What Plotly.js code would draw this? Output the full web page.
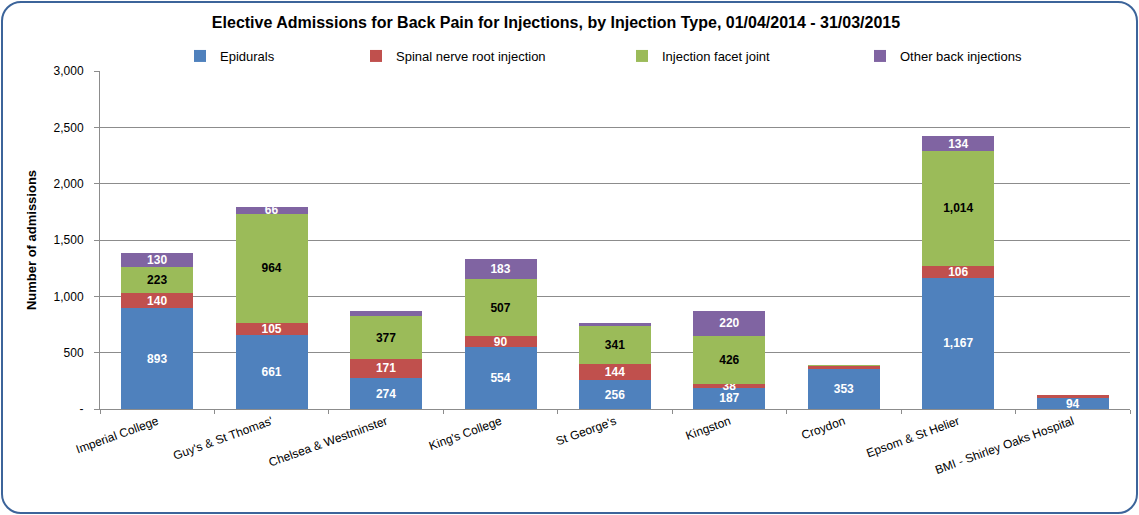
<!DOCTYPE html>
<html>
<head>
<meta charset="utf-8">
<script src="https://cdn.plot.ly/plotly-3.0.1.min.js"></script>
<style>
  html, body { margin:0; padding:0; background:#fff; }
  #wrap { position:relative; width:1139px; height:515px; }
  #chart { width:1139px; height:515px; }
  #frame { position:absolute; left:1px; top:1px; width:1133px; height:509px;
           border:2px solid #3c649a; border-radius:20px; pointer-events:none; }
</style>
</head>
<body>
<div id="wrap"><div id="chart"></div><div id="frame"></div></div>
<script>
const categories = ["Imperial College", "Guy's & St Thomas'", "Chelsea & Westminster", "King's College",
  "St George's", "Kingston", "Croydon", "Epsom & St Helier", "BMI - Shirley Oaks Hospital"];
const epidurals   = [893, 661, 274, 554, 256, 187, 353, 1167, 94];
const spinalRoot  = [140, 105, 171, 90, 144, 38, 28, 106, 28];
const facetJoint  = [223, 964, 377, 507, 341, 426, 12, 1014, 0];
const otherBack   = [130, 66, 45, 183, 25, 220, 0, 134, 0];
// which segments carry a data label in the original
const epiduralsShown  = [1,1,1,1,1,1,1,1,1];
const spinalShown     = [1,1,1,1,1,1,0,1,0];
const facetShown      = [1,1,1,1,1,1,0,1,0];
const otherShown      = [1,1,0,1,0,1,0,1,0];
const yTickVals   = [0, 500, 1000, 1500, 2000, 2500, 3000];
const yTickText   = ["-", "500", "1,000", "1,500", "2,000", "2,500", "3,000"];

const FONT = "Liberation Sans, Arial, sans-serif";
const fmt = v => v.toLocaleString('en-GB');
const labels = (vals, shown) => vals.map((v, i) => shown[i] ? fmt(v) : "");

function px2paper(px) { return (px - 100) / 1030; }

function mk(name, vals, shown, color, textColor, legendId) {
  return {
    type: 'bar', name: name, x: categories, y: vals,
    marker: { color: color, line: { width: 0 } },
    text: labels(vals, shown), textposition: 'inside', insidetextanchor: 'middle',
    textangle: 0, constraintext: 'none', cliponaxis: false,
    textfont: { family: FONT, size: 12, color: textColor, weight: 'bold' },
    hoverinfo: 'x+y+name', legend: legendId
  };
}

const data = [
  mk('Epidurals', epidurals, epiduralsShown, '#4f81bd', '#ffffff', 'legend'),
  mk('Spinal nerve root injection', spinalRoot, spinalShown, '#c0504d', '#ffffff', 'legend2'),
  mk('Injection facet joint', facetJoint, facetShown, '#9bbb59', '#000000', 'legend3'),
  mk('Other back injections', otherBack, otherShown, '#8064a2', '#ffffff', 'legend4')
];

const legBase = { orientation: 'h', yanchor: 'middle', y: (409 - 56) / 338, xanchor: 'left',
  font: { family: FONT, size: 13, color: '#000' }, bgcolor: 'rgba(0,0,0,0)', itemwidth: 30,
  tracegroupgap: 0 };

const layout = {
  width: 1139, height: 515,
  margin: { l: 100, r: 9, t: 71, b: 106 },
  paper_bgcolor: '#ffffff', plot_bgcolor: '#ffffff',
  barmode: 'stack', bargap: 0.37,
  showlegend: true,
  font: { family: FONT, color: '#000' },
  title: { text: '<b>Elective Admissions for Back Pain for Injections, by Injection Type, 01/04/2014 - 31/03/2015</b>',
           font: { family: FONT, size: 16, color: '#000' }, x: 556 / 1139, xanchor: 'center', y: 1 - 22 / 515, yanchor: 'middle' },
  xaxis: {
    type: 'category', tickson: 'boundaries', ticks: 'outside', ticklen: 4, tickcolor: '#8c8c8c',
    tickangle: -20, tickfont: { family: FONT, size: 12, color: '#000' },
    showline: true, linecolor: '#8c8c8c', linewidth: 1, showgrid: false, fixedrange: true
  },
  yaxis: {
    range: [0, 3000], tickvals: yTickVals, ticktext: yTickText,
    ticks: 'outside', ticklen: 5, tickcolor: '#8c8c8c', ticklabelstandoff: 8,
    tickfont: { family: FONT, size: 12, color: '#000' },
    showline: true, linecolor: '#8c8c8c', linewidth: 1,
    showgrid: true, gridcolor: '#8c8c8c', gridwidth: 1, zeroline: false,
    title: { text: '<b>Number of admissions</b>', font: { family: FONT, size: 13, color: '#000' }, standoff: 14 },
    fixedrange: true
  },
  legend:  Object.assign({}, legBase, { x: px2paper(180) }),
  legend2: Object.assign({}, legBase, { x: px2paper(356) }),
  legend3: Object.assign({}, legBase, { x: px2paper(622) }),
  legend4: Object.assign({}, legBase, { x: px2paper(860) })
};

Plotly.newPlot('chart', data, layout, { displayModeBar: false, staticPlot: true });
</script>
</body>
</html>
